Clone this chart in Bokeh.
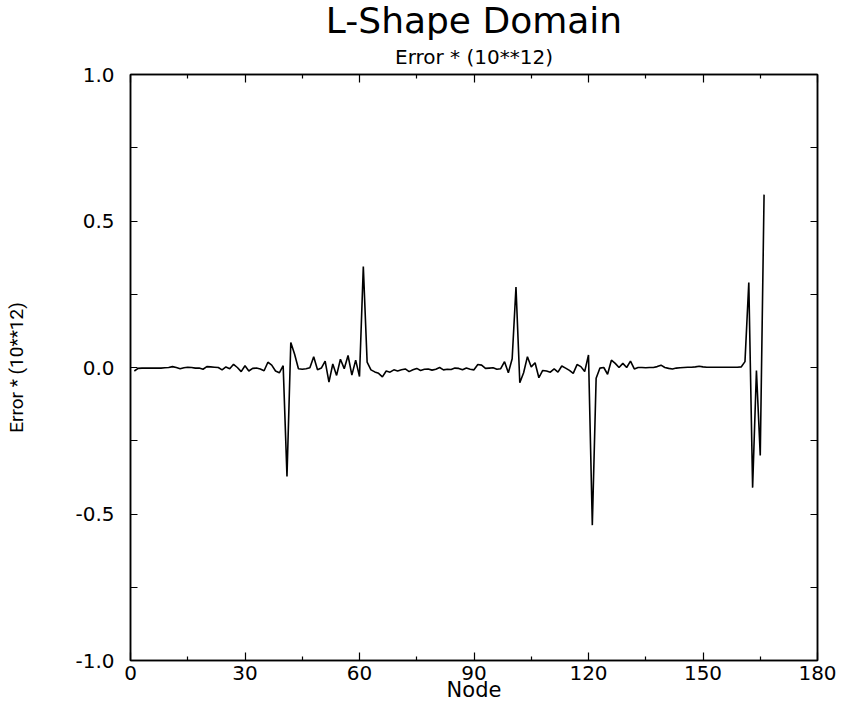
from bokeh.plotting import figure
from bokeh.models import LinearAxis, Title, FixedTicker, Range1d, PrintfTickFormatter
from bokeh.embed import file_html
from bokeh.resources import INLINE

# ---- data ----
nodes = list(range(1, 167))
error = [
    -0.012, -0.003, -0.002, -0.002, -0.002, -0.002, -0.002, -0.002, -0.001, 0.000,   # 1-10
    0.003, 0.000, -0.004, -0.001, 0.001, 0.000, -0.002, -0.002, -0.006, 0.003,       # 11-20
    0.002, 0.001, 0.000, -0.008, 0.002, -0.004, 0.011, 0.000, -0.014, 0.006,         # 21-30
    -0.012, -0.003, -0.002, -0.005, -0.011, 0.018, 0.008, -0.012, -0.018, 0.006,     # 31-40
    -0.372, 0.085, 0.045, -0.004, -0.006, -0.004, -0.001, 0.037, -0.008, -0.002,     # 41-50
    0.022, -0.050, 0.012, -0.027, 0.028, -0.004, 0.041, -0.026, 0.025, -0.031,       # 51-60
    0.345, 0.018, -0.008, -0.015, -0.020, -0.032, -0.012, -0.016, -0.008, -0.012,    # 61-70
    -0.008, -0.005, -0.014, -0.008, -0.003, -0.010, -0.006, -0.005, -0.009, -0.006,  # 71-80
    0.000, -0.008, -0.006, -0.007, -0.002, -0.003, -0.008, -0.002, -0.006, -0.008,   # 81-90
    0.010, 0.008, -0.003, -0.002, -0.001, -0.006, -0.004, 0.020, -0.018, 0.030,      # 91-100
    0.275, -0.052, -0.018, 0.037, 0.002, 0.016, -0.035, -0.010, -0.012, -0.016,      # 101-110
    -0.005, -0.016, 0.005, -0.002, -0.010, -0.020, 0.010, 0.003, -0.014, 0.043,      # 111-120
    -0.538, -0.037, -0.002, 0.000, -0.023, 0.025, 0.014, 0.000, 0.014, 0.000,        # 121-130
    0.022, -0.005, 0.000, 0.000, -0.001, 0.000, 0.000, 0.003, 0.008, 0.000,          # 131-140
    -0.003, -0.005, -0.002, -0.001, 0.000, 0.001, 0.001, 0.002, 0.004, 0.002,        # 141-150
    0.001, 0.001, 0.001, 0.001, 0.001, 0.001, 0.001, 0.001, 0.001, 0.002,            # 151-160
    0.020, 0.290, -0.410, -0.010, -0.300, 0.590,                                     # 161-166
]

x_major = [0, 30, 60, 90, 120, 150, 180]
x_minor = [15, 45, 75, 105, 135, 165]
y_major = [-1.0, -0.5, 0.0, 0.5, 1.0]
y_minor = [-0.75, -0.25, 0.25, 0.75]

title_text = "L-Shape Domain"
subtitle_text = "Error * (10**12)"
x_label = "Node"
y_label = "Error * (10**12)"

FONT = "DejaVu Sans"

p = figure(width=842, height=704, x_range=Range1d(0, 180), y_range=Range1d(-1, 1),
           output_backend="svg", toolbar_location=None, title=None,
           x_axis_location=None, y_axis_location=None,
           min_border_left=130, min_border_right=25, min_border_top=74, min_border_bottom=44)
p.xgrid.visible = False
p.ygrid.visible = False
p.outline_line_color = "black"
p.outline_line_width = 1.5
p.background_fill_color = "white"
p.border_fill_color = "white"

xt = FixedTicker(ticks=x_major, minor_ticks=x_minor)
yt = FixedTicker(ticks=y_major, minor_ticks=y_minor)


def style_axis(ax, major_in, minor_in):
    ax.major_tick_in = major_in
    ax.major_tick_out = 0
    ax.minor_tick_in = minor_in
    ax.minor_tick_out = 0
    ax.axis_line_color = "black"
    ax.axis_line_width = 1.5
    ax.major_tick_line_color = "black"
    ax.major_tick_line_width = 1.2
    ax.minor_tick_line_color = "black"
    ax.minor_tick_line_width = 1.2


# bottom axis
xb = LinearAxis(ticker=xt, axis_label=x_label)
style_axis(xb, 8, 4)
xb.major_label_text_font = FONT
xb.major_label_text_font_size = "20px"
xb.major_label_text_color = "black"
xb.major_label_standoff = 5
xb.axis_label_text_font = FONT
xb.axis_label_text_font_size = "21px"
xb.axis_label_text_font_style = "normal"
xb.axis_label_text_color = "black"
xb.axis_label_standoff = -5
p.add_layout(xb, "below")

# left axis
yl = LinearAxis(ticker=yt, axis_label=y_label, formatter=PrintfTickFormatter(format="%.1f"))
style_axis(yl, 7, 7)
yl.major_label_text_font = FONT
yl.major_label_text_font_size = "20px"
yl.major_label_text_color = "black"
yl.major_label_standoff = 16
yl.axis_label_text_font = "Roboto"
yl.axis_label_text_font_size = "19px"
yl.axis_label_text_font_style = "normal"
yl.axis_label_text_color = "black"
yl.axis_label_standoff = 44
p.add_layout(yl, "left")

# top and right axes: ticks only, blank labels
for loc, tick, majors, mj, mn in (("above", xt, x_major, 8, 4), ("right", yt, y_major, 7, 7)):
    ax = LinearAxis(ticker=tick)
    style_axis(ax, mj, mn)
    ax.major_label_overrides = {t: "" for t in majors}
    ax.major_label_text_font_size = "1px"
    ax.major_label_standoff = 0
    p.add_layout(ax, loc)

# titles (first added sits closest to the frame)
sub = Title(text=subtitle_text, align="center", text_font=FONT, text_font_size="20px",
            text_font_style="normal", text_color="black", standoff=12)
main = Title(text=title_text, align="center", text_font=FONT, text_font_size="36px",
             text_font_style="normal", text_color="black", standoff=-9)
p.add_layout(sub, "above")
p.add_layout(main, "above")

p.line(nodes, error, line_color="black", line_width=1.6)

open("out.html", "w").write(file_html(p, INLINE))
